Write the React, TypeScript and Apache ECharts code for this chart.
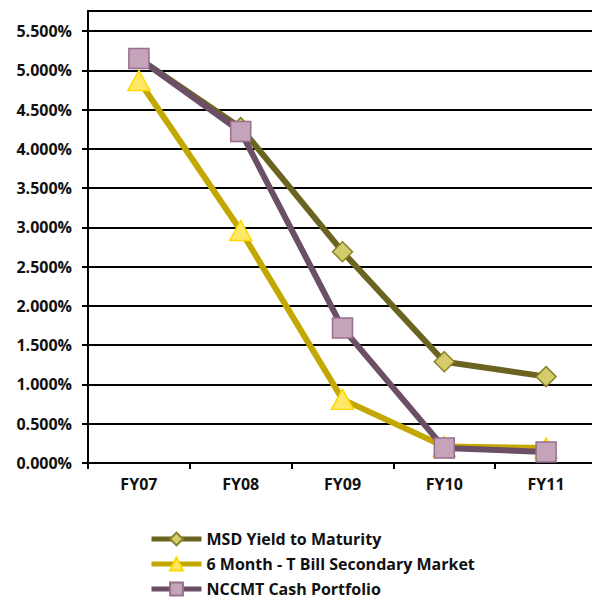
import React, { useEffect, useRef } from "react";
import * as echarts from "echarts";

const categories = ["FY07", "FY08", "FY09", "FY10", "FY11"];
const msdYield = [5.15, 4.27, 2.69, 1.29, 1.1];
const tBill = [4.87, 2.96, 0.81, 0.21, 0.19];
const nccmt = [5.15, 4.22, 1.72, 0.19, 0.14];
const seriesNames = ["MSD Yield to Maturity", "6 Month - T Bill Secondary Market", "NCCMT Cash Portfolio"];

const FONT = "Open Sans";

export default function App() {
  const ref = useRef<HTMLDivElement>(null);
  useEffect(() => {
    if (!ref.current) return;
    const chart = echarts.init(ref.current, null, { renderer: "svg" });
    chart.setOption({
      animation: false,
      backgroundColor: "#ffffff",
      grid: { left: 88, top: 31, right: -5, height: 432, containLabel: false, outerBoundsMode: "none" },
      graphic: [
        { type: "line", shape: { x1: 87, y1: 11, x2: 600, y2: 11 }, style: { stroke: "#000", lineWidth: 2 } },
        { type: "line", shape: { x1: 88, y1: 10, x2: 88, y2: 32 }, style: { stroke: "#000", lineWidth: 2 } },
      ],
      xAxis: {
        type: "category",
        data: categories,
        boundaryGap: true,
        axisLine: { show: true, lineStyle: { color: "#000", width: 2 } },
        axisTick: { show: true, length: 6, inside: false, lineStyle: { color: "#000", width: 2 } },
        axisLabel: { color: "#111", fontFamily: FONT, fontWeight: "bold", fontSize: 16, margin: 13 },
        splitLine: { show: false },
      },
      yAxis: {
        type: "value",
        min: 0,
        max: 5.5,
        interval: 0.5,
        axisLine: { show: true, lineStyle: { color: "#000", width: 2 } },
        axisTick: { show: true, length: 6, lineStyle: { color: "#000", width: 2 } },
        axisLabel: {
          color: "#111",
          fontFamily: FONT,
          fontWeight: "bold",
          fontSize: 16,
          margin: 16,
          formatter: (v: number) => v.toFixed(3) + "%",
        },
        splitLine: { show: true, lineStyle: { color: "#000", width: 2 } },
      },
      legend: {
        orient: "vertical",
        left: 149,
        top: 531,
        padding: 0,
        itemWidth: 50,
        itemHeight: 16,
        itemGap: 9,
        lineStyle: { width: 5 },
        textStyle: { color: "#111", fontFamily: FONT, fontWeight: "bold", fontSize: 16, lineHeight: 16 },
        data: seriesNames,
      },
      series: [
        {
          name: seriesNames[0],
          type: "line",
          data: msdYield,
          symbol: "diamond",
          symbolSize: 20,
          lineStyle: { color: "#6b6420", width: 6 },
          itemStyle: { color: "#d4cc6a", borderColor: "#8a8228", borderWidth: 1.5 },
          z: 2,
        },
        {
          name: seriesNames[1],
          type: "line",
          data: tBill,
          symbol: "triangle",
          symbolSize: [22, 20],
          lineStyle: { color: "#c2a800", width: 6 },
          itemStyle: { color: "#ffe866", borderColor: "#ffd800", borderWidth: 1.5 },
          z: 3,
        },
        {
          name: seriesNames[2],
          type: "line",
          data: nccmt,
          symbol: "rect",
          symbolSize: 20,
          lineStyle: { color: "#6b4f66", width: 6 },
          itemStyle: { color: "#c4a4b8", borderColor: "#9a6e8e", borderWidth: 1.5 },
          z: 4,
        },
      ],
    });
    return () => chart.dispose();
  }, []);
  return (
    <div
      ref={ref}
      style={{ position: "fixed", left: 0, top: 0, width: 592, height: 600, background: "#fff" }}
    />
  );
}
